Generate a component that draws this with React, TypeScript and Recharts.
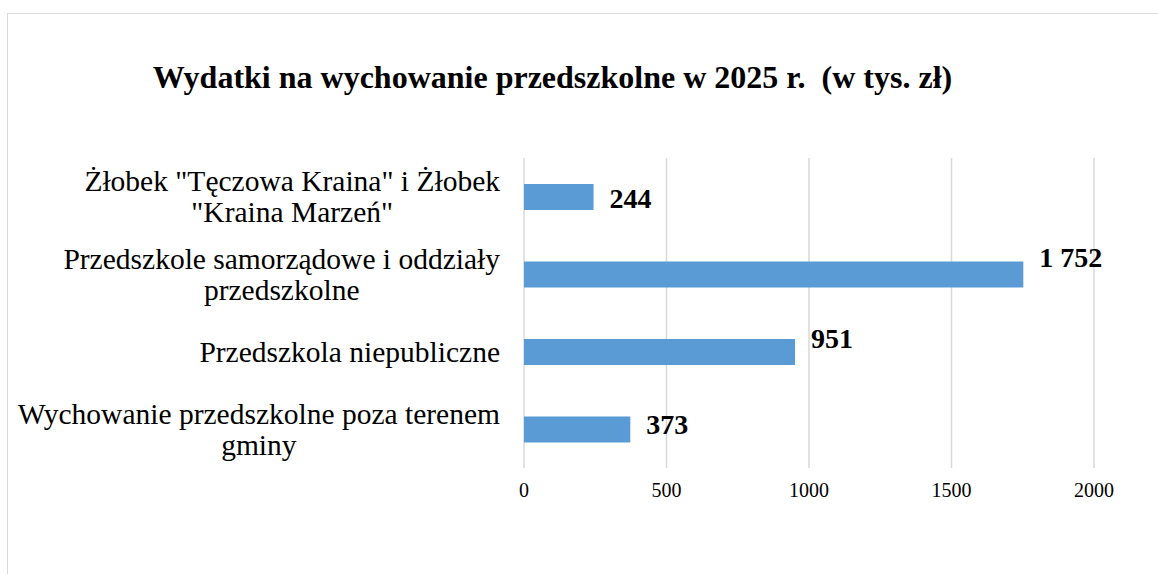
import React from 'react';
import { BarChart, Bar, XAxis, YAxis, CartesianGrid, LabelList } from 'recharts';

const categories = [
	'Żłobek "Tęczowa Kraina" i Żłobek\n"Kraina Marzeń"',
	'Przedszkole samorządowe i oddziały\nprzedszkolne',
	'Przedszkola niepubliczne',
	'Wychowanie przedszkolne poza terenem\ngminy',
];
const values = [244, 1752, 951, 373];
const valueLabels = ['244', '1 752', '951', '373'];
const xTicks = [0, 500, 1000, 1500, 2000];

const SERIF = "'Liberation Serif', 'Times New Roman', serif";
const BAR_COLOR = '#5B9BD5';
const GRID_COLOR = '#d9d9d9';

// label nudges, Excel had them dragged around a bit
const labelDy = [0, -19, -15, -7];

let ctx: CanvasRenderingContext2D | null = null;
const measure = (text: string, font: string) => {
	if (!ctx) ctx = document.createElement('canvas').getContext('2d');
	if (!ctx) return text.length * 13;
	ctx.font = font;
	return ctx.measureText(text).width;
};

const CategoryTick = (props: any) => {
	const { x, y, payload } = props;
	const lines: string[] = String(payload.value).split('\n');
	const fontSize = 29.5;
	const maxW = Math.max(...lines.map((l) => measure(l, `${fontSize}px ${SERIF}`)));
	const cx = x - maxW / 2;
	const lineH = 31;
	const startY = y + 10 - ((lines.length - 1) * lineH) / 2;
	return (
		<text x={cx} y={startY} textAnchor="middle" fontFamily={SERIF} fontSize={fontSize} fill="#000">
			{lines.map((l, i) => (
				<tspan key={i} x={cx} y={startY + i * lineH}>
					{l}
				</tspan>
			))}
		</text>
	);
};

const ValueLabel = (props: any) => {
	const { x, y, width, height, index } = props;
	return (
		<text
			x={x + width + 16}
			y={y + height / 2 + 11 + labelDy[index]}
			fontFamily={SERIF}
			fontSize={28}
			fontWeight="bold"
			fill="#000"
		>
			{valueLabels[index]}
		</text>
	);
};

const data = categories.map((name, i) => ({ name, value: values[i] }));

export default function App() {
	return (
		<div
			style={{
				position: 'absolute',
				left: 7,
				top: 13,
				width: 1200,
				height: 600,
				border: `1px solid ${GRID_COLOR}`,
				background: '#fff',
			}}
		>
			<div
				style={{
					position: 'absolute',
					left: 0,
					top: 47,
					width: 1089,
					textAlign: 'center',
					fontFamily: SERIF,
					fontWeight: 'bold',
					fontSize: 32,
					lineHeight: '32px',
					whiteSpace: 'pre',
				}}
			>
				{'Wydatki na wychowanie przedszkolne w 2025 r.  (w tys. zł)'}
			</div>
			<BarChart
				width={1200}
				height={600}
				data={data}
				layout="vertical"
				margin={{ top: 144, right: 114, bottom: 106, left: 0 }}
			>
				<CartesianGrid horizontal={false} vertical stroke={GRID_COLOR} strokeWidth={1.5} />
				<XAxis
					type="number"
					domain={[0, 2000]}
					ticks={xTicks}
					axisLine={false}
					tickLine={false}
					height={40}
					tickSize={6}
					tickMargin={9}
					tick={{ fontFamily: SERIF, fontSize: 20, fill: '#000' }}
				/>
				<YAxis
					type="category"
					dataKey="name"
					width={516}
					axisLine={false}
					tickLine={false}
					tickSize={0}
					tickMargin={24}
					tick={<CategoryTick />}
				/>
				<Bar dataKey="value" fill={BAR_COLOR} barSize={26} isAnimationActive={false}>
					<LabelList dataKey="value" content={<ValueLabel />} />
				</Bar>
			</BarChart>
		</div>
	);
}
